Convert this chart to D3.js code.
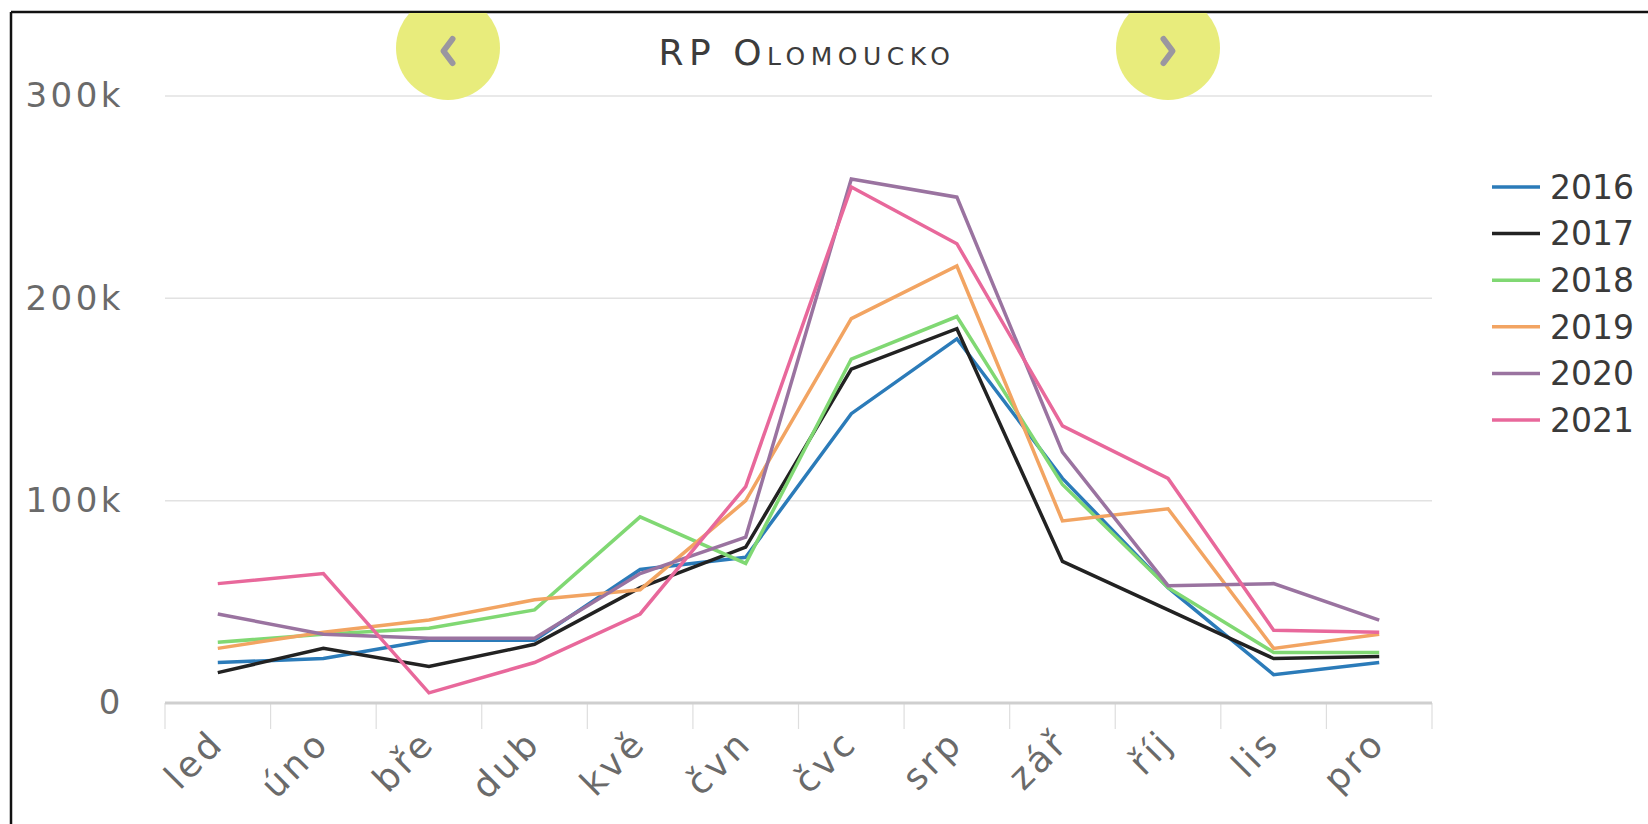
<!DOCTYPE html>
<html>
<head>
<meta charset="utf-8">
<script src="https://cdn.jsdelivr.net/npm/d3@7"></script>
<style>
  html, body { margin: 0; padding: 0; background: #fff; }
  svg { display: block; }
  text { font-family: "DejaVu Sans", sans-serif; }
</style>
</head>
<body>
<svg id="chart" width="1648" height="824"></svg>
<script>
const months = ["led", "úno", "bře", "dub", "kvě", "čvn", "čvc", "srp", "zář", "říj", "lis", "pro"];
const seriesNames = ["2016", "2017", "2018", "2019", "2020", "2021"];
const seriesColors = ["#2b7bb9", "#222222", "#80d873", "#f2a462", "#9a73a0", "#e8689b"];
const values2016 = [20000, 22000, 31000, 31000, 66000, 72000, 143000, 180000, 111000, 57000, 14000, 20000];
const values2017 = [15000, 27000, 18000, 29000, 57000, 77000, 165000, 185000, 70000, 46000, 22000, 23000];
const values2018 = [30000, 34000, 37000, 46000, 92000, 69000, 170000, 191000, 108000, 57000, 25000, 25000];
const values2019 = [27000, 35000, 41000, 51000, 56000, 100000, 190000, 216000, 90000, 96000, 27000, 34000];
const values2020 = [44000, 34000, 32000, 32000, 64000, 82000, 259000, 250000, 124000, 58000, 59000, 41000];
const values2021 = [59000, 64000, 5000, 20000, 44000, 107000, 255000, 227000, 137000, 111000, 36000, 35000];
const yTicks = [0, 100000, 200000, 300000];
const yTickLabels = ["0", "100k", "200k", "300k"];
const title = "RP Olomoucko";

const allValues = [values2016, values2017, values2018, values2019, values2020, values2021];
const series = seriesNames.map((n, i) => ({ name: n, color: seriesColors[i], values: allValues[i] }));

const svg = d3.select("#chart");

// border (top and left)
svg.append("line").attr("x1", 11).attr("x2", 1648).attr("y1", 12).attr("y2", 12)
  .attr("stroke", "#111").attr("stroke-width", 2.5);
svg.append("line").attr("x1", 11).attr("x2", 11).attr("y1", 12).attr("y2", 824)
  .attr("stroke", "#111").attr("stroke-width", 2.5);

const pLeft = 165, pRight = 1432, pTop = 96, pBottom = 703;
const x = d3.scaleBand().domain(months).range([pLeft, pRight]).padding(0);
const y = d3.scaleLinear().domain([0, 300000]).range([pBottom, pTop]);

// gridlines
const grid = svg.append("g");
grid.selectAll("line").data(yTicks.filter(t => t > 0)).join("line")
  .attr("x1", pLeft).attr("x2", pRight)
  .attr("y1", d => y(d)).attr("y2", d => y(d))
  .attr("stroke", "#e2e2e2").attr("stroke-width", 1.5);

// y axis labels
const yAxis = d3.axisLeft(y).tickValues(yTicks).tickSize(0).tickPadding(0)
  .tickFormat((d, i) => yTickLabels[i]);
const gy = svg.append("g").attr("transform", `translate(124,0)`).call(yAxis);
gy.select(".domain").remove();
gy.selectAll("text").attr("font-size", 34).attr("fill", "#6a6a6a")
  .attr("font-family", "DejaVu Sans").style("letter-spacing", "3.5px").attr("dx", 0);

// x axis
const xAxis = d3.axisBottom(x).tickSize(0).tickPadding(0);
const gx = svg.append("g").attr("transform", `translate(0,${pBottom})`).call(xAxis);
gx.select(".domain").remove();
// band boundary ticks
const bounds = months.map(m => x(m)).concat([pRight]);
svg.append("g").selectAll("line").data(bounds).join("line")
  .attr("x1", d => d).attr("x2", d => d)
  .attr("y1", pBottom).attr("y2", pBottom + 26)
  .attr("stroke", "#dedede").attr("stroke-width", 1.2);
svg.append("line").attr("x1", pLeft).attr("x2", pRight).attr("y1", pBottom).attr("y2", pBottom)
  .attr("stroke", "#cfcfcf").attr("stroke-width", 3);
gx.selectAll(".tick text")
  .attr("font-size", 36).attr("fill", "#6a6a6a").attr("font-family", "DejaVu Sans")
  .style("letter-spacing", "3.5px")
  .attr("text-anchor", "end").attr("dy", 0).attr("y", 0)
  .attr("transform", "translate(8,42) rotate(-45)");

// lines
const line = d3.line().x((d, i) => x(months[i]) + x.bandwidth() / 2).y(d => y(d));
svg.append("g").selectAll("path").data(series).join("path")
  .attr("d", d => line(d.values))
  .attr("fill", "none").attr("stroke", d => d.color).attr("stroke-width", 3.5)
  .attr("stroke-linejoin", "miter");

// legend
const lg = svg.append("g").attr("transform", "translate(1492,187)");
const items = lg.selectAll("g").data(series).join("g")
  .attr("transform", (d, i) => `translate(0,${i * 46.6})`);
items.append("line").attr("x1", 0).attr("x2", 48).attr("y1", 0).attr("y2", 0)
  .attr("stroke", d => d.color).attr("stroke-width", 3.5);
items.append("text").attr("x", 58).attr("y", 0).attr("dy", "0.36em")
  .attr("font-size", 33).attr("fill", "#3a3a3a").text(d => d.name);

// title with nav circles
const defs = svg.append("defs");
defs.append("clipPath").attr("id", "topclip").append("rect")
  .attr("x", 0).attr("y", 13).attr("width", 1648).attr("height", 824);
const nav = svg.append("g");
[{cx: 448, dir: -1}, {cx: 1168, dir: 1}].forEach(b => {
  nav.append("circle").attr("cx", b.cx).attr("cy", 48).attr("r", 52).attr("fill", "#e8ec7c")
    .attr("clip-path", "url(#topclip)");
  const s = 9, h = 12;
  nav.append("path")
    .attr("d", b.dir < 0
      ? `M${b.cx + s / 2},${51 - h} L${b.cx - s / 2},${51} L${b.cx + s / 2},${51 + h}`
      : `M${b.cx - s / 2},${51 - h} L${b.cx + s / 2},${51} L${b.cx - s / 2},${51 + h}`)
    .attr("fill", "none").attr("stroke", "#9a96a0").attr("stroke-width", 6)
    .attr("stroke-linecap", "round").attr("stroke-linejoin", "round");
});

svg.append("text").attr("x", 807).attr("y", 65).attr("text-anchor", "middle")
  .attr("font-size", 36).attr("fill", "#3c3c3c")
  .style("font-variant", "small-caps").style("letter-spacing", "5.5px")
  .text(title);
</script>
</body>
</html>
